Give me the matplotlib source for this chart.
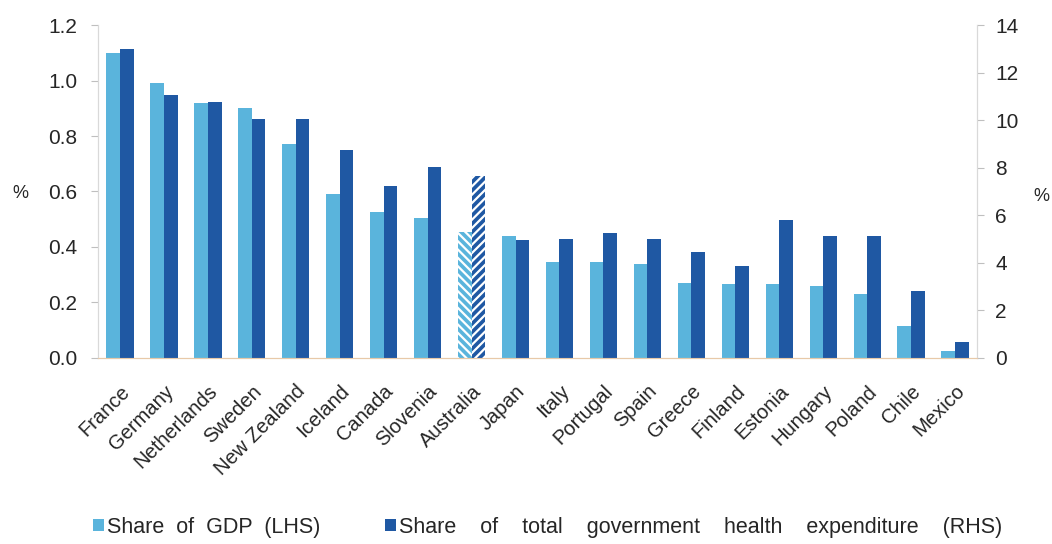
import matplotlib.pyplot as plt
import matplotlib.transforms as mtransforms
import numpy as np

plt.rcParams['font.family'] = ['Liberation Sans', 'DejaVu Sans']

countries = ['France', 'Germany', 'Netherlands', 'Sweden', 'New Zealand', 'Iceland',
             'Canada', 'Slovenia', 'Australia', 'Japan', 'Italy', 'Portugal', 'Spain',
             'Greece', 'Finland', 'Estonia', 'Hungary', 'Poland', 'Chile', 'Mexico']
gdp_share = [1.10, 0.99, 0.92, 0.90, 0.77, 0.59, 0.525, 0.505, 0.455, 0.44, 0.345,
             0.345, 0.34, 0.27, 0.265, 0.265, 0.26, 0.232, 0.115, 0.025]
health_share = [13.0, 11.05, 10.75, 10.05, 10.05, 8.75, 7.25, 8.05, 7.65, 4.97, 5.0,
                5.27, 5.0, 4.45, 3.87, 5.8, 5.13, 5.13, 2.8, 0.67]
hatched = 'Australia'

light = '#5AB4DC'
dark = '#1F58A3'
x = np.arange(len(countries))
w = 0.31

fig = plt.figure(figsize=(10.52, 5.44), dpi=100)
ax = fig.add_axes([0.0932, 0.342, 0.8355, 0.612])
ax2 = ax.twinx()

solid = [c != hatched for c in countries]
hx = [i for i, c in enumerate(countries) if c == hatched]
b1 = ax.bar(x[solid] - w / 2, np.array(gdp_share)[solid], w, color=light, zorder=2)
b2 = ax2.bar(x[solid] + w / 2, np.array(health_share)[solid], w, color=dark, zorder=2)

# Australia bars hatched with white lines
plt.rcParams['hatch.linewidth'] = 1.6
ax.bar(x[hx] - w / 2, [gdp_share[i] for i in hx], w, color=light,
       edgecolor='white', linewidth=0, hatch='\\\\\\\\', zorder=2)
ax2.bar(x[hx] + w / 2, [health_share[i] for i in hx], w, color=dark,
        edgecolor='white', linewidth=0, hatch='////', zorder=2)

ax.set_xlim(-0.5, len(countries) - 0.5)
ax.set_ylim(0, 1.2)
ax2.set_ylim(0, 14)
ax.set_yticks(np.arange(0, 1.21, 0.2))
ax.set_yticklabels(['%.1f' % v for v in np.arange(0, 1.21, 0.2)])
ax2.set_yticks(range(0, 15, 2))

ax.set_xticks(x)
ax.set_xticklabels(countries, rotation=45, ha='right', rotation_mode='anchor')
shift = mtransforms.ScaledTranslation(-6 / 100, 0, fig.dpi_scale_trans)
for lab in ax.get_xticklabels():
    lab.set_transform(lab.get_transform() + shift)

for a in (ax, ax2):
    a.spines['top'].set_visible(False)
    a.spines['left'].set_color('#D9D9D9')
    a.spines['right'].set_color('#D9D9D9')
    a.spines['bottom'].set_color('#E8C9A8')
ax.tick_params(axis='y', colors='#BFBFBF', labelcolor='#262626', labelsize=15,
               length=5, pad=10)
ax2.tick_params(axis='y', colors='#BFBFBF', labelcolor='#262626', labelsize=15,
                length=5, pad=8)
ax.tick_params(axis='x', length=0, labelsize=14.5, labelcolor='#262626', pad=17)

fig.text(0.012, 0.645, '%', fontsize=13, color='#262626', va='center')
fig.text(0.982, 0.638, '%', fontsize=13, color='#262626', va='center')

leg = fig.legend([b1[0], b2[0]],
                 ['  '.join('Share of GDP (LHS)'.split()),
                  '    '.join('Share of total government health expenditure (RHS)'.split())],
                 loc='center left', bbox_to_anchor=(0.078, 0.031), ncol=2,
                 frameon=False, fontsize=15.5, handlelength=0.5, handleheight=0.5,
                 handletextpad=0.15, columnspacing=3.0, labelcolor='#262626',
                 borderpad=0)

fig.savefig('out.png', dpi=100)
